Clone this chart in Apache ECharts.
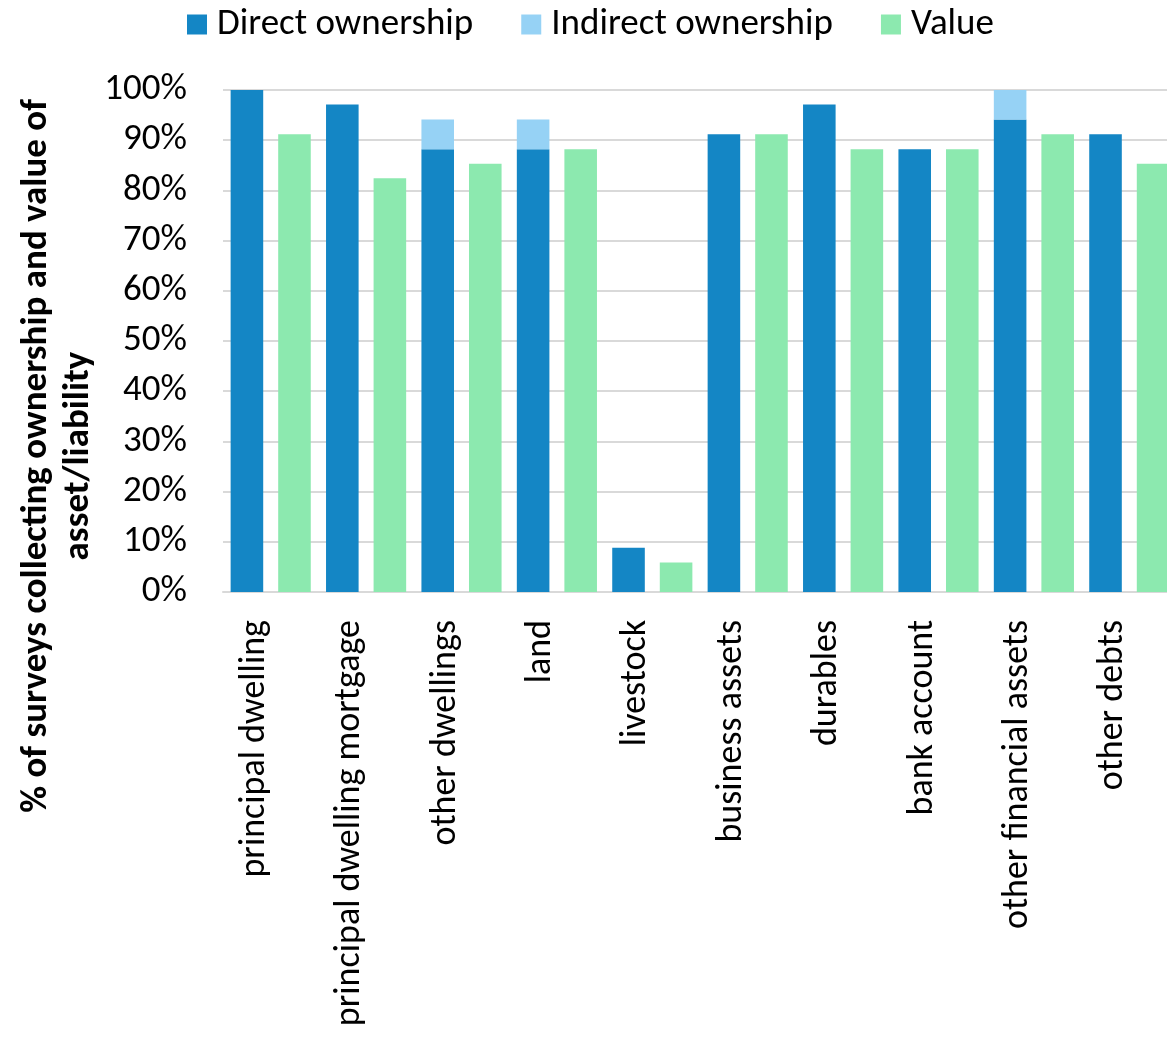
<!DOCTYPE html>
<html>
<head>
<meta charset="utf-8">
<script src="https://cdn.jsdelivr.net/npm/echarts@6/dist/echarts.min.js"></script>
<style>
  html, body { margin: 0; padding: 0; background: #fff; }
  #chart { width: 1167px; height: 1040px; }
</style>
</head>
<body>
<div id="chart"></div>
<script>
// Asset / liability categories
const categories = [
  'principal dwelling', 'principal dwelling mortgage', 'other dwellings', 'land',
  'livestock', 'business assets', 'durables', 'bank account',
  'other financial assets', 'other debts'
];
// Share of surveys (%) collecting each item
const directOwnership   = [100, 97.1, 88.2, 88.2, 8.8, 91.2, 97.1, 88.2, 94.1, 91.2];
const indirectOwnership = [0, 0, 5.9, 5.9, 0, 0, 0, 0, 5.9, 0];
const valueCollected    = [91.2, 82.4, 85.3, 88.2, 5.9, 91.2, 88.2, 88.2, 91.2, 85.3];
const yTicks = [0, 10, 20, 30, 40, 50, 60, 70, 80, 90, 100];

const FONT = 'Carlito, Calibri, Lato, sans-serif';
const COLORS = { direct: '#1486C5', indirect: '#96D2F5', value: '#8CE9AF' };

const chart = echarts.init(document.getElementById('chart'));
chart.setOption({
  animation: false,
  backgroundColor: '#fff',
  legend: {
    left: 187,
    top: 6,
    padding: 0,
    itemWidth: 20,
    itemHeight: 20,
    itemGap: 48,
    icon: 'rect',
    textStyle: { fontFamily: FONT, fontSize: 37, color: '#000', padding: [0, 0, 0, 5] },
    data: ['Direct ownership', 'Indirect ownership', 'Value']
  },
  // the plot runs a little past the right edge of the canvas
  grid: {
    left: 223, width: 954, top: 90, bottom: 448,
    containLabel: false, outerBoundsMode: 'none'
  },
  xAxis: {
    type: 'category',
    data: categories,
    axisLine: { lineStyle: { color: '#D9D9D9', width: 2 } },
    axisTick: { show: false },
    axisLabel: {
      rotate: 90,
      margin: 28,
      interval: 0,
      fontFamily: FONT,
      fontSize: 36,
      color: '#000',
      verticalAlign: 'bottom',
      lineHeight: 32
    }
  },
  yAxis: {
    type: 'value',
    min: yTicks[0],
    max: yTicks[yTicks.length - 1],
    interval: yTicks[1] - yTicks[0],
    axisLine: { show: false },
    axisTick: { show: false },
    splitLine: { lineStyle: { color: '#D9D9D9', width: 2 } },
    axisLabel: {
      margin: 36,
      fontFamily: FONT,
      fontSize: 37,
      color: '#000',
      formatter: v => v + '%'
    }
  },
  graphic: [{
    type: 'text',
    x: 58,
    y: 456,
    rotation: Math.PI / 2,
    style: {
      text: '% of surveys collecting ownership and value of\nasset/liability',
      fontFamily: FONT,
      fontWeight: 'bold',
      fontSize: 37,
      lineHeight: 42,
      fill: '#000',
      textAlign: 'center',
      textVerticalAlign: 'middle'
    }
  }],
  series: [
    {
      name: 'Direct ownership', type: 'bar', stack: 'own',
      data: directOwnership, itemStyle: { color: COLORS.direct },
      barGap: '46%', barCategoryGap: '16%'
    },
    {
      name: 'Indirect ownership', type: 'bar', stack: 'own',
      data: indirectOwnership, itemStyle: { color: COLORS.indirect }
    },
    {
      name: 'Value', type: 'bar',
      data: valueCollected, itemStyle: { color: COLORS.value },
      barGap: '46%', barCategoryGap: '16%'
    }
  ]
});
</script>
</body>
</html>
